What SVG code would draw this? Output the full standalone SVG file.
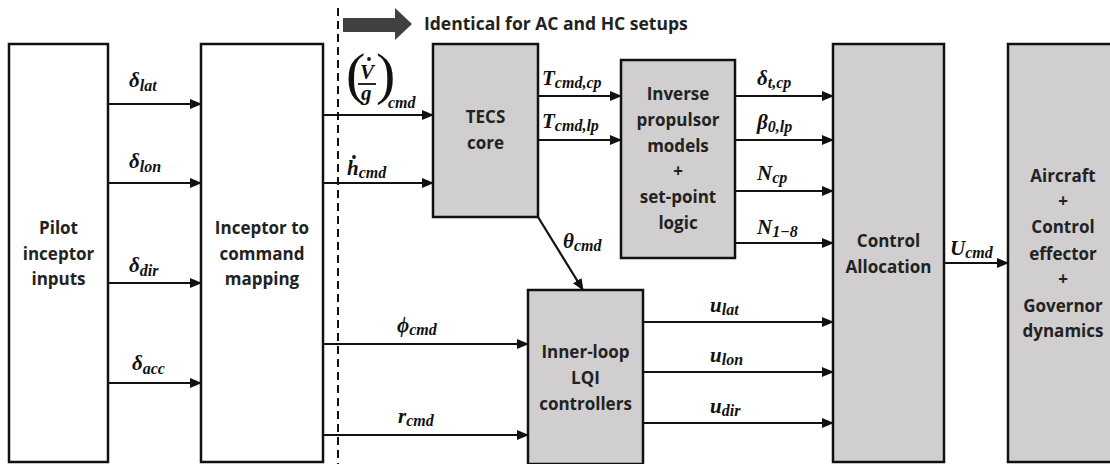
<svg xmlns="http://www.w3.org/2000/svg" width="1110" height="464" viewBox="0 0 1110 464">
<style>
.box{stroke:#111;stroke-width:2.5}
.w{fill:#fff}
.g{fill:#d0cece}
.bt{font-family:"Open Sans","Liberation Sans",sans-serif;font-weight:bold;font-size:17px;fill:#222;text-anchor:middle}
.m{font-family:"Liberation Serif",serif;font-weight:bold;font-style:italic;font-size:21px;fill:#111}
.s{font-size:16px}
.ln{stroke:#111;stroke-width:2.2;fill:none}
.par{font-size:58px;font-weight:normal;font-style:normal}
</style>
<defs>
<marker id="ah" markerWidth="12" markerHeight="12" refX="11" refY="6" orient="auto" markerUnits="userSpaceOnUse">
<path d="M0,1 L12,6 L0,11 Z" fill="#111"/>
</marker>
</defs>
<rect width="1110" height="464" fill="#fff"/>

<g id="banner">
<line x1="338" y1="8" x2="338" y2="464" stroke="#111" stroke-width="2" stroke-dasharray="8,5"/>
<polygon points="343,18 395,18 395,8 412,24 395,40 395,32 343,32" fill="#404040"/>
<text x="424" y="30" font-family="'Open Sans','Liberation Sans',sans-serif" font-weight="bold" font-size="17.5px" fill="#222">Identical for AC and HC setups</text>
</g>

<g id="pilot">
<rect class="box w" x="9" y="44" width="99" height="418"/>
<text class="bt" x="58.5" y="234">Pilot</text>
<text class="bt" x="58.5" y="260">inceptor</text>
<text class="bt" x="58.5" y="285">inputs</text>
</g>

<g id="inceptor">
<rect class="box w" x="201" y="44" width="122" height="418"/>
<text class="bt" x="262" y="234">Inceptor to</text>
<text class="bt" x="262" y="260">command</text>
<text class="bt" x="262" y="285">mapping</text>
</g>

<g id="tecs">
<rect class="box g" x="433" y="44" width="105" height="173"/>
<text class="bt" x="485.5" y="123">TECS</text>
<text class="bt" x="485.5" y="149">core</text>
</g>

<g id="inverse">
<rect class="box g" x="621" y="60" width="114" height="198"/>
<text class="bt" x="678" y="100">Inverse</text>
<text class="bt" x="678" y="126">propulsor</text>
<text class="bt" x="678" y="152">models</text>
<text class="bt" x="678" y="177">+</text>
<text class="bt" x="678" y="203">set-point</text>
<text class="bt" x="678" y="229">logic</text>
</g>

<g id="innerloop">
<rect class="box g" x="528" y="290" width="115" height="174"/>
<text class="bt" x="585.5" y="358">Inner-loop</text>
<text class="bt" x="585.5" y="384">LQI</text>
<text class="bt" x="585.5" y="410">controllers</text>
</g>

<g id="allocation">
<rect class="box g" x="833" y="44" width="111" height="418"/>
<text class="bt" x="888.5" y="247">Control</text>
<text class="bt" x="888.5" y="273">Allocation</text>
</g>

<g id="aircraft">
<rect class="box g" x="1008" y="44" width="106" height="418"/>
<text class="bt" x="1063" y="182">Aircraft</text>
<text class="bt" x="1063" y="207">+</text>
<text class="bt" x="1063" y="233">Control</text>
<text class="bt" x="1063" y="260">effector</text>
<text class="bt" x="1063" y="285">+</text>
<text class="bt" x="1063" y="312">Governor</text>
<text class="bt" x="1063" y="337">dynamics</text>
</g>

<g id="connectors">
<line class="ln" x1="108" y1="104" x2="201" y2="104" marker-end="url(#ah)"/>
<line class="ln" x1="108" y1="183" x2="201" y2="183" marker-end="url(#ah)"/>
<line class="ln" x1="108" y1="283" x2="201" y2="283" marker-end="url(#ah)"/>
<line class="ln" x1="108" y1="383" x2="201" y2="383" marker-end="url(#ah)"/>
<line class="ln" x1="323" y1="115" x2="433" y2="115" marker-end="url(#ah)"/>
<line class="ln" x1="323" y1="183" x2="433" y2="183" marker-end="url(#ah)"/>
<line class="ln" x1="323" y1="344" x2="528" y2="344" marker-end="url(#ah)"/>
<line class="ln" x1="323" y1="435" x2="528" y2="435" marker-end="url(#ah)"/>
<line class="ln" x1="538" y1="96" x2="621" y2="96" marker-end="url(#ah)"/>
<line class="ln" x1="538" y1="140" x2="621" y2="140" marker-end="url(#ah)"/>
<line class="ln" x1="538" y1="217" x2="583" y2="290" marker-end="url(#ah)"/>
<line class="ln" x1="735" y1="96" x2="833" y2="96" marker-end="url(#ah)"/>
<line class="ln" x1="735" y1="140" x2="833" y2="140" marker-end="url(#ah)"/>
<line class="ln" x1="735" y1="191" x2="833" y2="191" marker-end="url(#ah)"/>
<line class="ln" x1="735" y1="243" x2="833" y2="243" marker-end="url(#ah)"/>
<line class="ln" x1="643" y1="322" x2="833" y2="322" marker-end="url(#ah)"/>
<line class="ln" x1="643" y1="372" x2="833" y2="372" marker-end="url(#ah)"/>
<line class="ln" x1="643" y1="423" x2="833" y2="423" marker-end="url(#ah)"/>
<line class="ln" x1="944" y1="263" x2="1008" y2="263" marker-end="url(#ah)"/>
</g>

<g id="labels">
<text class="m" x="129" y="87">δ<tspan class="s" dy="4">lat</tspan></text>
<text class="m" x="129" y="168">δ<tspan class="s" dy="4">lon</tspan></text>
<text class="m" x="129" y="272">δ<tspan class="s" dy="4">dir</tspan></text>
<text class="m" x="132" y="370">δ<tspan class="s" dy="4">acc</tspan></text>

<text class="m"><tspan class="par" x="346" y="93">(</tspan><tspan x="360" y="79">V</tspan><tspan x="361" y="100">g</tspan><tspan class="par" x="376" y="93">)</tspan><tspan class="s" x="388" y="108">cmd</tspan></text>
<circle cx="369" cy="59" r="1.9" fill="#111"/>
<line x1="358" y1="84" x2="376" y2="84" stroke="#111" stroke-width="1.8"/>

<text class="m" x="347" y="175">h<tspan class="s" dy="3">cmd</tspan></text>
<circle cx="354" cy="157" r="1.9" fill="#111"/>

<text class="m" x="542" y="85">T<tspan class="s" dy="3">cmd,cp</tspan></text>
<text class="m" x="542" y="128">T<tspan class="s" dy="3">cmd,lp</tspan></text>

<text class="m" x="757" y="85">δ<tspan class="s" dy="3">t,cp</tspan></text>
<text class="m" x="757" y="129">β<tspan class="s" dy="3">0,lp</tspan></text>
<text class="m" x="757" y="180">N<tspan class="s" dy="3">cp</tspan></text>
<text class="m" x="757" y="234">N<tspan class="s" dy="3" font-size="17px">1−8</tspan></text>

<text class="m" x="563" y="248">θ<tspan class="s" dy="3">cmd</tspan></text>
<text class="m" x="397" y="332">ϕ<tspan class="s" dy="3">cmd</tspan></text>
<text class="m" x="398" y="423">r<tspan class="s" dy="3">cmd</tspan></text>

<text class="m" x="710" y="312">u<tspan class="s" dy="3">lat</tspan></text>
<text class="m" x="710" y="362">u<tspan class="s" dy="3">lon</tspan></text>
<text class="m" x="710" y="413">u<tspan class="s" dy="3">dir</tspan></text>

<text class="m" x="950" y="255">U<tspan class="s" dy="3">cmd</tspan></text>
</g>
</svg>
